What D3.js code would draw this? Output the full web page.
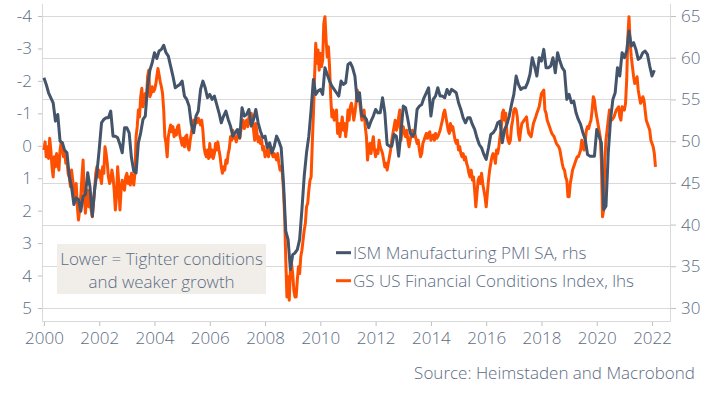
<!DOCTYPE html>
<html lang="en">

<head>
  <meta charset="UTF-8">
  <meta name="viewport" content="width=device-width, initial-scale=1.0">
  <script src="https://cdn.jsdelivr.net/npm/d3@7"></script>
  <title>ISM PMI vs GS Financial Conditions</title>
  <style>
    body {
      margin: 0;
      background: #fff;
    }

    svg text {
      font-family: "Open Sans", "Noto Sans", sans-serif;
      font-size: 17px;
      font-weight: 300;
      fill: #5c6c83;
    }
  </style>
</head>

<body>
  <div id="chart"></div>

  <script>
    /*-------------------------------------------------------*/
    /*------------------------ data -------------------------*/
    /*-------------------------------------------------------*/
    // ISM Manufacturing PMI SA, monthly from Jan 2000 (right axis)
    const ismValues = [
      57.6, 56.8, 55.8, 55.2, 54.6, 52.4, 53.2, 50.0, 49.8, 48.9, 48.6, 45.8,
      44.5, 42.4, 43.2, 43.0, 41.6, 43.4, 43.6, 46.2, 44.5, 41.0, 44.2, 46.2,
      49.0, 52.2, 52.6, 52.8, 52.8, 53.6, 50.6, 50.6, 50.4, 49.6, 48.6, 51.6,
      51.6, 51.0, 48.0, 46.4, 46.2, 49.8, 51.0, 52.6, 53.0, 56.6, 58.5, 59.4,
      60.6, 59.9, 60.8, 61.0, 61.5, 60.6, 60.2, 59.0, 57.8, 56.4, 56.6, 56.8,
      57.2, 55.4, 55.0, 54.2, 52.0, 51.0, 53.0, 53.6, 56.2, 57.2, 56.4, 55.2,
      55.6, 55.0, 55.4, 54.4, 53.4, 52.2, 53.0, 53.6, 52.6, 51.8, 50.6, 51.0,
      51.4, 50.4, 54.0, 53.0, 53.2, 53.8, 51.8, 52.6, 53.8, 52.2, 51.2, 50.4,
      50.6, 49.2, 49.8, 48.6, 49.4, 50.6, 50.0, 49.2, 45.0, 39.2, 38.2, 34.6,
      36.4, 36.6, 37.0, 38.2, 41.8, 45.8, 48.6, 50.6, 53.8, 57.4, 55.6, 56.0,
      56.2, 55.6, 58.8, 58.0, 57.2, 56.6, 56.2, 55.8, 55.4, 57.2, 56.8, 57.0,
      59.2, 59.4, 58.8, 57.8, 54.8, 55.8, 53.0, 53.0, 52.6, 51.6, 52.4, 53.0,
      53.8, 53.4, 53.4, 55.2, 53.4, 49.6, 49.4, 49.4, 50.8, 50.6, 48.2, 51.0,
      54.2, 54.0, 52.6, 51.0, 50.6, 51.0, 53.8, 54.2, 54.4, 55.2, 55.8, 56.4,
      53.0, 55.0, 55.4, 56.4, 55.4, 55.4, 55.2, 56.2, 55.6, 56.2, 56.0, 55.8,
      54.6, 53.8, 52.8, 52.2, 52.8, 52.8, 52.0, 51.4, 50.4, 49.6, 49.2, 48.4,
      47.8, 49.2, 50.8, 51.0, 51.4, 52.2, 52.4, 49.8, 51.4, 52.0, 53.0, 54.4,
      55.6, 57.8, 56.8, 56.2, 56.4, 56.4, 57.0, 58.0, 60.0, 59.0, 57.8, 60.0,
      59.6, 61.0, 58.8, 58.8, 59.0, 60.0, 58.2, 60.6, 59.6, 58.8, 58.4, 55.0,
      55.6, 54.6, 54.8, 53.4, 52.6, 52.0, 51.0, 50.2, 48.4, 48.2, 48.2, 48.2,
      51.4, 50.6, 49.8, 41.8, 42.2, 48.6, 52.6, 55.0, 55.8, 58.8, 57.8, 60.6,
      60.0, 60.8, 63.2, 61.4, 61.8, 61.0, 59.8, 60.0, 60.6, 60.8, 60.4, 59.0,
      57.8, 58.5
    ];

    // GS US Financial Conditions Index, twice a month from Jan 2000 (left axis, inverted)
    const fciValues = [
      0.13, -0.12, 0.34, 0.03, 0.39, -0.23, 0.13, 0.65, 0.96, 0.34, 0.65, 0.24, 0.54, 0.75, 0.13, -0.12, 0.13, 0.34, 0.18, 0.54, 0.44, 0.85, 0.96, 1.26,
      0.75, 1.06, 1.37, 1.57, 1.16, 1.88, 2.29, 1.98, 1.57, 0.96, 0.44, 1.57, 2.08, 1.57, 1.37, 1.88, 1.57, 1.98, 2.19, 1.77, 1.37, 0.85, 0.65, 0.96,
      0.75, 0.96, 1.16, 0.65, 0.85, 0.03, 0.24, 0.54, 0.96, 1.16, 1.06, 0.75, 0.96, 1.37, 1.98, 1.57, 0.65, 1.16, 1.98, 1.37, 1.06, 1.26, 1.37, 0.96,
      0.85, 1.16, 0.96, 1.21, 0.85, 0.96, 1.21, 0.85, -0.28, -0.59, -1.1, -0.89, -1.51, -1.77, -1.2, -1.41, -1.61, -1.41, -2.13, -2.33, -1.51, -1.61, -1.82, -1.67,
      -1.72, -1.87, -2.13, -2.38, -2.18, -1.97, -1.82, -1.61, -1.1, -0.28, -0.07, 0.34, -0.28, -0.48, -0.64, -0.43, -0.59, -0.28, -0.48, -0.33, -0.59, -0.64, -0.33, -0.17,
      -0.02, -0.23, 0.03, -0.28, -0.33, 0.03, 0.13, -0.17, -0.38, -0.64, -0.79, -0.64, -0.75, -0.72, -0.85, -0.74, -0.64, -0.79, -0.48, 0.03, 0.24, 0.34, 0.13, 0.39,
      -0.07, 0.34, 0.13, 0.39, 0.24, -0.07, 0.13, -0.12, 0.13, 0.34, 0.65, 0.85, 0.65, 0.75, 0.44, 0.54, 0.24, 0.08, -0.28, -0.17, -0.48, -0.23, -0.28, -0.12,
      -0.28, -0.48, -0.23, -0.48, -0.64, -0.79, -0.53, -0.69, -0.79, -0.59, -0.89, -0.69, -1.0, -0.79, -0.48, -0.17, -0.69, -0.38, -0.12, -0.28, -0.07, -0.17, 0.13, 0.03,
      0.34, 0.18, 0.13, 0.34, 0.13, 0.03, 0.24, 0.34, 0.24, 0.34, 0.44, 0.24, 0.54, 0.75, 0.65, 0.85, 1.37, 2.19, 3.53, 4.66, 4.04, 4.76, 3.83, 3.63,
      3.94, 4.45, 4.66, 4.66, 4.14, 3.73, 3.94, 3.42, 3.22, 2.91, 2.6, 2.39, 1.88, 1.78, 1.37, 1.06, 0.96, -0.07, -1.0, -2.13, -3.16, -2.54, -2.95, -2.33,
      -2.85, -2.44, -2.64, -3.77, -3.98, -3.26, -2.74, -3.05, -2.44, -1.51, -0.89, -1.1, -0.79, -0.89, -1.1, -0.38, -0.69, -0.28, -0.59, -0.89, -0.48, -0.69, -0.28, -0.59,
      -1.1, -0.79, -1.2, -1.31, -1.1, -0.79, -1.0, -1.31, -1.72, -1.61, -1.41, -1.1, -0.79, -1.0, -1.1, -0.59, -0.28, 0.44, 0.03, -0.07, 0.24, -0.07, -0.28, 0.13,
      0.34, 0.13, 0.24, -0.17, 0.03, 0.13, 0.24, 0.44, 0.65, 0.54, 0.75, 0.54, 0.34, 0.13, -0.17, -0.38, -0.59, -0.79, -0.48, -0.59, -0.89, -1.1, -0.17, -0.48,
      -0.59, -0.38, -0.28, -0.48, -0.17, 0.03, -0.17, -0.38, -0.48, -0.28, -0.38, -0.23, -0.07, -0.17, 0.13, 0.34, 0.24, -0.07, -0.17, -0.28, -0.38, -0.23, -0.38, -0.43,
      -0.17, -0.28, -0.33, -0.17, -0.38, -0.23, -0.28, -0.38, -0.48, -0.64, -0.79, -1.0, -1.1, -0.89, -0.69, -0.48, -0.38, -0.69, -0.48, -0.59, -0.38, -0.17, -0.07, -0.17,
      0.13, 0.03, 0.24, 0.34, 0.24, 0.44, 0.34, 0.54, 0.65, 0.85, 0.96, 0.75, 1.06, 0.96, 1.37, 1.88, 1.47, 1.06, 0.96, 1.16, 0.85, 1.16, 1.37, 1.57,
      1.88, 1.47, 1.06, 0.75, 0.54, 0.34, 0.24, 0.34, 0.54, 0.13, 0.24, 0.03, -0.28, -0.48, -1.0, -1.1, -0.79, -1.0, -0.38, -0.17, -0.07, -0.17, -0.59, -0.79,
      -1.1, -1.15, -1.1, -0.89, -0.38, -0.17, -0.48, -0.69, -0.74, -0.79, -0.84, -0.89, -0.59, -0.38, -0.33, -0.28, -0.48, -0.69, -0.79, -0.89, -1.0, -1.1, -1.2, -1.41,
      -1.61, -1.66, -1.72, -1.1, -1.0, -0.79, -0.69, -0.59, -0.48, -0.38, -0.33, -0.28, -0.17, -0.07, -0.02, 0.03, 0.13, 0.34, 0.54, 0.7, 0.75, 0.96, 1.06, 1.57,
      1.57, 1.16, 0.96, 0.75, 0.65, 0.54, 0.44, 0.34, 0.34, 0.24, 0.13, -0.17, 0.03, 0.13, -0.17, -0.48, -0.59, -0.53, -0.69, -0.79, -1.1, -1.51, -1.41, -1.1,
      -0.89, -0.69, -0.48, -0.28, 0.44, 2.19, 1.98, 0.44, -0.17, -0.48, -0.79, -1.1, -0.89, -0.79, -0.84, -0.89, -1.0, -1.1, -1.15, -1.2, -0.89, -0.79, -1.2, -1.15,
      -1.1, -1.31, -2.03, -3.36, -3.98, -3.16, -2.74, -2.44, -2.13, -1.92, -2.03, -2.13, -1.72, -1.51, -1.31, -1.36, -1.51, -1.41, -1.1, -0.79, -0.69, -0.59, -0.48, -0.17,
      -0.07, 0.03, 0.24, 0.65
    ];

    const startYear = 2000;
    const yearTicks = d3.range(2000, 2023, 2);
    const leftTicks = d3.range(-4, 6);
    const rightTicks = d3.range(30, 66, 5);
    const seriesNames = ["ISM Manufacturing PMI SA, rhs", "GS US Financial Conditions Index, lhs"];
    const seriesColors = ["#44546a", "#fe5000"];
    const noteLines = ["Lower = Tighter conditions", "and weaker growth"];
    const sourceText = "Source: Heimstaden and Macrobond";

    /*-------------------------------------------------------*/
    /*------------------- Window setting --------------------*/
    /*-------------------------------------------------------*/
    const width = 718;
    const height = 396;
    const plot = { left: 42, right: 670, top: 4, bottom: 321 };

    const svg = d3.select("#chart").append("svg")
      .attr("width", width)
      .attr("height", height);

    /*-------------------------------------------------------*/
    /*------------------------ scales -----------------------*/
    /*-------------------------------------------------------*/
    const x = d3.scaleLinear().domain([1999.93, 2022.65]).range([plot.left, plot.right]);
    const yLeft = d3.scaleLinear().domain([-4, 5]).range([16, 308]);
    const yRight = d3.scaleLinear().domain([65, 30]).range([16, 308]);

    // grid follows the right axis
    svg.append("g")
      .selectAll("line")
      .data(rightTicks)
      .join("line")
      .attr("x1", plot.left)
      .attr("x2", plot.right)
      .attr("y1", d => Math.round(yRight(d)) + 0.5)
      .attr("y2", d => Math.round(yRight(d)) + 0.5)
      .attr("stroke", "#d9d9d9");

    // frame: left, right and bottom
    const frame = svg.append("g").attr("stroke", "#d9d9d9").attr("fill", "none");
    frame.append("path").attr("d", `M${plot.left + 0.5},${plot.top}V${plot.bottom + 0.5}H${plot.right + 0.5}V${plot.top}`);

    /*-------------------------------------------------------*/
    /*------------------------- axes ------------------------*/
    /*-------------------------------------------------------*/
    const styleAxis = g => {
      g.select(".domain").remove();
      g.selectAll(".tick line").attr("stroke", "#bfbfbf");
      g.selectAll(".tick text").attr("fill", "#5c6c83").style("font-size", "17px");
    };

    svg.append("g")
      .attr("transform", `translate(${plot.left},0)`)
      .call(d3.axisLeft(yLeft).tickValues(leftTicks).tickFormat(d => String(d)).tickSize(4).tickPadding(6))
      .call(styleAxis);

    svg.append("g")
      .attr("transform", `translate(${plot.right + 1},0)`)
      .call(d3.axisRight(yRight).tickValues(rightTicks).tickFormat(d => String(d)).tickSize(5).tickPadding(5))
      .call(styleAxis);

    svg.append("g")
      .attr("transform", `translate(0,${plot.bottom + 1})`)
      .call(d3.axisBottom(x).tickValues(yearTicks).tickFormat(d => String(d)).tickSize(4).tickPadding(6))
      .call(styleAxis);

    /*-------------------------------------------------------*/
    /*------------------------ lines ------------------------*/
    /*-------------------------------------------------------*/
    const fciData = fciValues.map((v, i) => ({ t: startYear + i / 24, v }));
    const ismData = ismValues.map((v, i) => ({ t: startYear + i / 12, v }));

    svg.append("path")
      .datum(fciData)
      .attr("fill", "none")
      .attr("stroke", seriesColors[1])
      .attr("stroke-width", 3)
      .attr("stroke-linejoin", "round")
      .attr("d", d3.line().x(d => x(d.t)).y(d => yLeft(d.v)));

    svg.append("path")
      .datum(ismData)
      .attr("fill", "none")
      .attr("stroke", seriesColors[0])
      .attr("stroke-width", 3)
      .attr("stroke-linejoin", "round")
      .attr("d", d3.line().x(d => x(d.t)).y(d => yRight(d.v)));

    /*-------------------------------------------------------*/
    /*------------------ note, legend, source ---------------*/
    /*-------------------------------------------------------*/
    svg.append("rect")
      .attr("x", 57).attr("y", 244)
      .attr("width", 209).attr("height", 50)
      .attr("fill", "#f1eeea");

    svg.append("g")
      .selectAll("text")
      .data(noteLines)
      .join("text")
      .attr("x", 161.5)
      .attr("y", (d, i) => 264.5 + i * 23.5)
      .attr("text-anchor", "middle")
      .text(d => d);

    const legend = svg.append("g")
      .selectAll("g")
      .data(seriesNames)
      .join("g")
      .attr("transform", (d, i) => `translate(336,${252.7 + i * 28})`);

    legend.append("line")
      .attr("x1", 0).attr("x2", 15)
      .attr("stroke", (d, i) => seriesColors[i])
      .attr("stroke-width", 3);

    legend.append("text")
      .attr("x", 17)
      .attr("y", 6)
      .text(d => d);

    svg.append("text")
      .attr("x", 695)
      .attr("y", 379)
      .attr("text-anchor", "end")
      .text(sourceText);
  </script>
</body>

</html>
